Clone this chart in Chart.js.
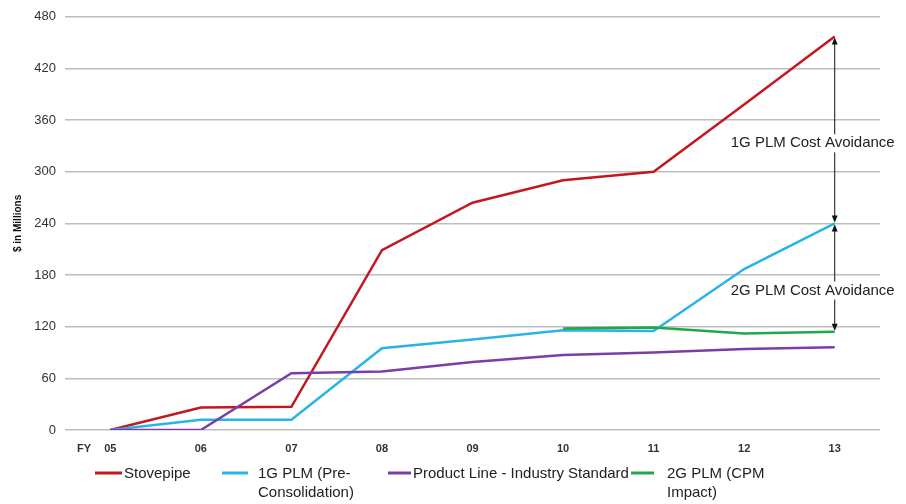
<!DOCTYPE html>
<html>
<head>
<meta charset="utf-8">
<script src="https://cdn.jsdelivr.net/npm/chart.js@4.4.1/dist/chart.umd.min.js"></script>
<style>
  html, body { margin: 0; padding: 0; background: #ffffff; }
  #wrap { width: 906px; height: 504px; position: relative; }
</style>
</head>
<body>
<div id="wrap"><canvas id="c" width="906" height="504"></canvas></div>
<script>
// ---- data ----
const categories = ['05', '06', '07', '08', '09', '10', '11', '12', '13'];
const stovepipe   = [0, 26, 27, 209, 264, 290, 300, 378, 457];
const plm1g       = [0, 12, 12, 95, 105, 116, 115, 187, 240];
const productLine = [0, 0, 66, 68, 79, 87, 90, 94, 96];
const plm2g       = [null, null, null, null, null, 118, 119, 112, 114];
const seriesNames = ['Stovepipe', '1G PLM (Pre-\nConsolidation)', 'Product Line - Industry Standard', '2G PLM (CPM\nImpact)'];
const yTickValues = [0, 60, 120, 180, 240, 300, 360, 420, 480];
const axisTitle = '$ in Millions';
const fyLabel = 'FY';
// annotations: [category, from value, to value, label, label value]
const annoCategory = '13';
const annoFrom   = [457, 240];
const annoTo     = [240, 114];
const annoLabels = ['1G PLM Cost Avoidance', '2G PLM Cost Avoidance'];
const annoLabelValue = [333, 162];

const colors = ['#c1191f', '#29b4e6', '#7a3ea6', '#1ea84b'];
const FONT = '"Liberation Sans", Arial, sans-serif';

const extrasPlugin = {
  id: 'extras',
  afterDatasetsDraw(chart) {
    const ctx = chart.ctx;
    const xs = chart.scales.x, ys = chart.scales.y;
    // FY label
    ctx.save();
    ctx.fillStyle = '#333';
    ctx.font = 'bold 11px ' + FONT;
    ctx.textAlign = 'center';
    ctx.textBaseline = 'middle';
    ctx.fillText(fyLabel, chart.chartArea.left + 19, chart.chartArea.bottom + 19);
    ctx.restore();

    // arrows
    const ax = xs.getPixelForValue(categories.indexOf(annoCategory));
    for (let i = 0; i < annoFrom.length; i++) {
      const y1 = ys.getPixelForValue(annoFrom[i]);
      const y2 = ys.getPixelForValue(annoTo[i]);
      ctx.save();
      ctx.strokeStyle = '#111';
      ctx.fillStyle = '#111';
      ctx.lineWidth = 1;
      ctx.beginPath();
      ctx.moveTo(ax, y1 + 3);
      ctx.lineTo(ax, y2 - 3);
      ctx.stroke();
      ctx.beginPath();
      ctx.moveTo(ax, y1 + 1);
      ctx.lineTo(ax - 3, y1 + 8);
      ctx.lineTo(ax + 3, y1 + 8);
      ctx.closePath();
      ctx.fill();
      ctx.beginPath();
      ctx.moveTo(ax, y2 - 1);
      ctx.lineTo(ax - 3, y2 - 8);
      ctx.lineTo(ax + 3, y2 - 8);
      ctx.closePath();
      ctx.fill();
      const ly = ys.getPixelForValue(annoLabelValue[i]);
      ctx.font = '15px ' + FONT;
      const w = ctx.measureText(annoLabels[i]).width;
      const cx = ax - 22;
      ctx.fillStyle = '#ffffff';
      ctx.fillRect(cx - w / 2 - 2, ly - 9, w + 4, 18);
      ctx.fillStyle = '#222';
      ctx.textAlign = 'center';
      ctx.textBaseline = 'middle';
      ctx.fillText(annoLabels[i], cx, ly);
      ctx.restore();
    }

    // legend
    const legX = [95, 222, 388, 631];
    const legLineW = [27, 26, 23, 23];
    const legTextX = [124, 258, 413, 667];
    const ly0 = 474;
    ctx.save();
    ctx.font = '15px ' + FONT;
    ctx.textBaseline = 'middle';
    ctx.textAlign = 'left';
    for (let i = 0; i < seriesNames.length; i++) {
      ctx.strokeStyle = colors[i];
      ctx.lineWidth = 3;
      ctx.beginPath();
      ctx.moveTo(legX[i], ly0 - 1);
      ctx.lineTo(legX[i] + legLineW[i], ly0 - 1);
      ctx.stroke();
      ctx.fillStyle = '#222';
      const lines = seriesNames[i].split('\n');
      lines.forEach((t, k) => ctx.fillText(t, legTextX[i], ly0 + k * 19));
    }
    ctx.restore();
  }
};

const mk = (label, data, color) => ({
  label, data, borderColor: color, backgroundColor: color,
  borderWidth: 2.5, pointRadius: 0, tension: 0, fill: false, spanGaps: false
});

new Chart(document.getElementById('c'), {
  type: 'line',
  data: {
    labels: categories,
    datasets: [
      mk(seriesNames[3], plm2g, colors[3]),
      mk(seriesNames[2], productLine, colors[2]),
      mk(seriesNames[1], plm1g, colors[1]),
      mk(seriesNames[0], stovepipe, colors[0])
    ]
  },
  options: {
    responsive: false,
    animation: false,
    layout: { padding: { top: 15, right: 26, left: 0, bottom: 0 } },
    plugins: { legend: { display: false }, tooltip: { enabled: false } },
    scales: {
      x: {
        offset: true,
        grid: { display: false, drawTicks: false },
        border: { display: false },
        ticks: { color: '#333', font: { size: 11, weight: 'bold', family: FONT }, padding: 12, maxRotation: 0 },
        afterFit(s) { s.height = 74; }
      },
      y: {
        min: 0, max: 480,
        afterBuildTicks(s) { s.ticks = yTickValues.map(v => ({ value: v })); },
        grid: { color: '#bdbdbd', lineWidth: 1.5, drawTicks: false },
        border: { display: false },
        ticks: { color: '#333', font: { size: 13, family: FONT }, padding: 9 },
        title: { display: true, text: axisTitle, color: '#111', font: { size: 10, weight: 'bold', family: FONT }, padding: { top: 12, bottom: 0 } },
        afterFit(s) { s.width = 65; }
      }
    }
  },
  plugins: [extrasPlugin]
});
</script>
</body>
</html>
